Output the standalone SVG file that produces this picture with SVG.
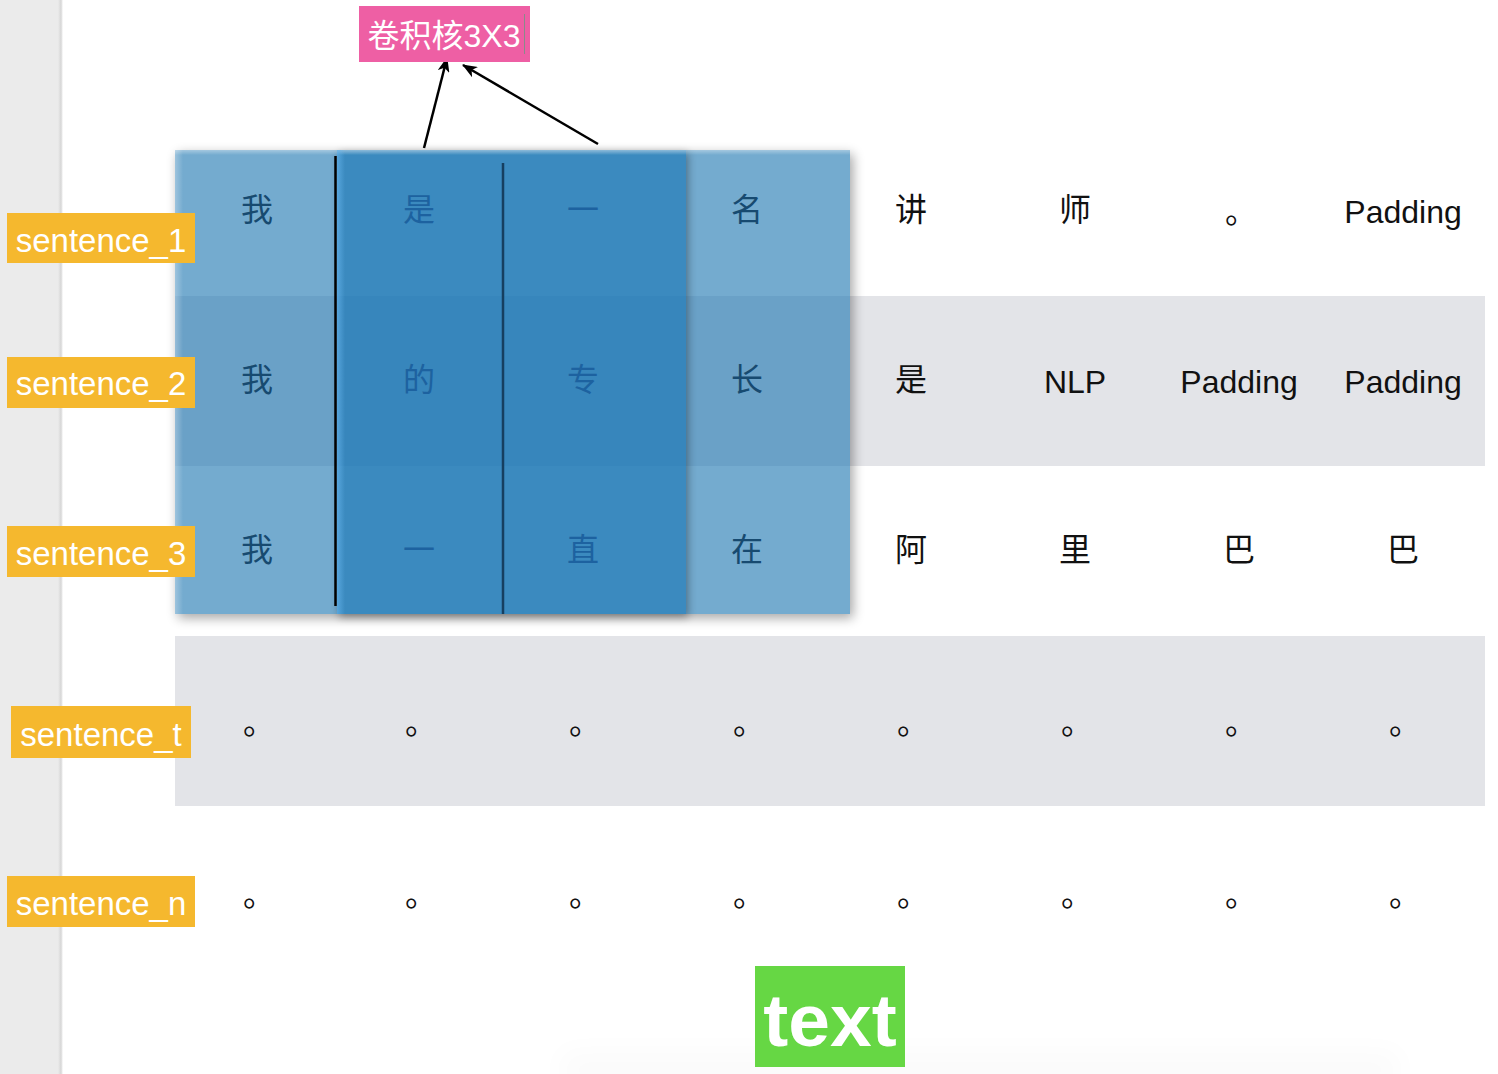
<svg xmlns="http://www.w3.org/2000/svg" width="1498" height="1074" viewBox="0 0 1498 1074">
<style>
.cell{font-family:"Liberation Sans","Noto Sans CJK SC",sans-serif;font-size:32px;text-anchor:middle;fill:#111}
.cj{font-family:"Noto Sans CJK SC","Liberation Sans",sans-serif}
.lt{fill:#174a70}
.dk{fill:#1d62a0}
.lab{font-family:"Liberation Sans","Noto Sans CJK SC",sans-serif;font-size:33px;fill:#fff;text-anchor:middle}
.orange{fill:#f5b82e}
.conn{stroke:#000;stroke-width:2.5;fill:none;marker-end:url(#arr)}
</style>
<defs>
<marker id="arr" markerUnits="userSpaceOnUse" markerWidth="16" markerHeight="12" refX="14" refY="6" orient="auto">
<path d="M0,0 L15,6 L0,12 L4,6 z" fill="#000"/>
</marker>
<filter id="blur6" x="-20%" y="-20%" width="140%" height="140%"><feGaussianBlur stdDeviation="6"/></filter>
<filter id="blur4" x="-20%" y="-20%" width="140%" height="140%"><feGaussianBlur stdDeviation="4"/></filter>
<filter id="blur20" x="-20%" y="-50%" width="140%" height="200%"><feGaussianBlur stdDeviation="14"/></filter>
<mask id="outOuter" maskUnits="userSpaceOnUse" x="0" y="0" width="1498" height="1074">
<rect x="0" y="0" width="1498" height="1074" fill="#fff"/>
<rect x="175" y="150" width="675" height="464" fill="#000"/>
</mask>
<mask id="outKernel" maskUnits="userSpaceOnUse" x="0" y="0" width="1498" height="1074">
<rect x="0" y="0" width="1498" height="1074" fill="#fff"/>
<rect x="337" y="150" width="349" height="464" fill="#000"/>
</mask>
<linearGradient id="stripEdge" x1="0" y1="0" x2="1" y2="0">
<stop offset="0" stop-color="#ebebeb"/>
<stop offset="0.6" stop-color="#d6d6d6"/>
<stop offset="1" stop-color="#ffffff"/>
</linearGradient>
<linearGradient id="topHi" x1="0" y1="0" x2="0" y2="1">
<stop offset="0" stop-color="#ffffff" stop-opacity="0.35"/>
<stop offset="1" stop-color="#ffffff" stop-opacity="0"/>
</linearGradient>
<linearGradient id="leftHi" x1="0" y1="0" x2="1" y2="0">
<stop offset="0" stop-color="#ffffff" stop-opacity="0.3"/>
<stop offset="1" stop-color="#ffffff" stop-opacity="0"/>
</linearGradient>
<linearGradient id="kLeftHi" x1="0" y1="0" x2="1" y2="0">
<stop offset="0" stop-color="#6ab8f0" stop-opacity="0.6"/>
<stop offset="1" stop-color="#6ab8f0" stop-opacity="0"/>
</linearGradient>
</defs>

<rect x="0" y="0" width="1498" height="1074" fill="#fff"/>
<g id="sidebar">
<rect x="0" y="0" width="58" height="1074" fill="#ebebeb"/>
<rect x="58" y="0" width="5" height="1074" fill="url(#stripEdge)"/>
</g>

<g id="rows">
<rect x="175" y="296" width="1310" height="170" fill="#e3e4e8"/>
<rect x="175" y="636" width="1310" height="170" fill="#e3e4e8"/>
</g>

<g id="bottom-shadow">
<rect x="560" y="1050" width="840" height="40" fill="#000" opacity="0.015" filter="url(#blur20)"/>
</g>

<g id="window">
<rect x="178" y="154" width="675" height="464" fill="#000" opacity="0.35" filter="url(#blur6)" mask="url(#outOuter)"/>
<rect x="175" y="150" width="675" height="464" fill="rgb(38,124,180)" fill-opacity="0.64"/>
<rect x="175" y="150" width="675" height="5" fill="url(#topHi)"/>
<rect x="175" y="150" width="8" height="464" fill="url(#leftHi)"/>
</g>

<g id="kernel">
<rect x="339" y="153" width="349" height="464" fill="#000" opacity="0.35" filter="url(#blur4)" mask="url(#outKernel)"/>
<rect x="337" y="150" width="349" height="464" fill="rgb(21,116,180)" fill-opacity="0.6"/>
<rect x="337" y="150" width="349" height="5" fill="url(#topHi)"/>
<rect x="337" y="150" width="8" height="464" fill="url(#kLeftHi)"/>
</g>

<g id="dividers">
<line x1="335.5" y1="156" x2="335.5" y2="606" stroke="#000" stroke-width="2.5"/>
<line x1="503" y1="163" x2="503" y2="614" stroke="#163f60" stroke-width="2.5"/>
</g>

<g id="row1" class="cell">
<text x="257" y="221" class="cj lt">我</text>
<text x="419" y="221" class="cj dk">是</text>
<text x="583" y="221" class="cj dk">一</text>
<text x="747" y="221" class="cj lt">名</text>
<text x="911" y="221" class="cj">讲</text>
<text x="1075" y="221" class="cj">师</text>
<text x="1241" y="223" class="cj">。</text>
<text x="1403" y="223">Padding</text>
</g>
<g id="row2" class="cell">
<text x="257" y="391" class="cj lt">我</text>
<text x="419" y="391" class="cj dk">的</text>
<text x="583" y="391" class="cj dk">专</text>
<text x="747" y="391" class="cj lt">长</text>
<text x="911" y="391" class="cj">是</text>
<text x="1075" y="393">NLP</text>
<text x="1239" y="393">Padding</text>
<text x="1403" y="393">Padding</text>
</g>
<g id="row3" class="cell">
<text x="257" y="561" class="cj lt">我</text>
<text x="419" y="561" class="cj dk">一</text>
<text x="583" y="561" class="cj dk">直</text>
<text x="747" y="561" class="cj lt">在</text>
<text x="911" y="561" class="cj">阿</text>
<text x="1075" y="561" class="cj">里</text>
<text x="1239" y="561" class="cj">巴</text>
<text x="1403" y="561" class="cj">巴</text>
</g>
<g id="row-t" class="cell cj">
<text x="259" y="734">。</text>
<text x="421" y="734">。</text>
<text x="585" y="734">。</text>
<text x="749" y="734">。</text>
<text x="913" y="734">。</text>
<text x="1077" y="734">。</text>
<text x="1241" y="734">。</text>
<text x="1405" y="734">。</text>
</g>
<g id="row-n" class="cell cj">
<text x="259" y="906">。</text>
<text x="421" y="906">。</text>
<text x="585" y="906">。</text>
<text x="749" y="906">。</text>
<text x="913" y="906">。</text>
<text x="1077" y="906">。</text>
<text x="1241" y="906">。</text>
<text x="1405" y="906">。</text>
</g>

<g id="connectors">
<line class="conn" x1="424" y1="148" x2="447" y2="58"/>
<line class="conn" x1="598" y1="144" x2="463" y2="65"/>
</g>

<g id="kernel-label">
<rect x="359" y="6" width="171" height="56" fill="#ee5fa4"/>
<text x="444" y="47" class="lab" style="font-size:32px">卷积核3X3</text>
<line x1="524.5" y1="14" x2="524.5" y2="54" stroke="#8a8a8a" stroke-width="1"/>
</g>

<g id="sentence_1">
<rect x="7" y="213" width="188" height="50" class="orange"/>
<text x="101" y="252" class="lab">sentence_1</text>
</g>
<g id="sentence_2">
<rect x="7" y="357" width="188" height="51" class="orange"/>
<text x="101" y="395" class="lab">sentence_2</text>
</g>
<g id="sentence_3">
<rect x="7" y="526" width="188" height="51" class="orange"/>
<text x="101" y="565" class="lab">sentence_3</text>
</g>
<g id="sentence_t">
<rect x="11" y="706" width="180" height="52" class="orange"/>
<text x="101" y="746" class="lab">sentence_t</text>
</g>
<g id="sentence_n">
<rect x="7" y="876" width="188" height="51" class="orange"/>
<text x="101" y="915" class="lab">sentence_n</text>
</g>

<g id="text-node">
<rect x="755" y="966" width="150" height="101" fill="#66d744"/>
<text x="830" y="1046" style="font-family:'Liberation Sans',sans-serif;font-size:75px;font-weight:bold;fill:#fff;text-anchor:middle">text</text>
</g>
</svg>
